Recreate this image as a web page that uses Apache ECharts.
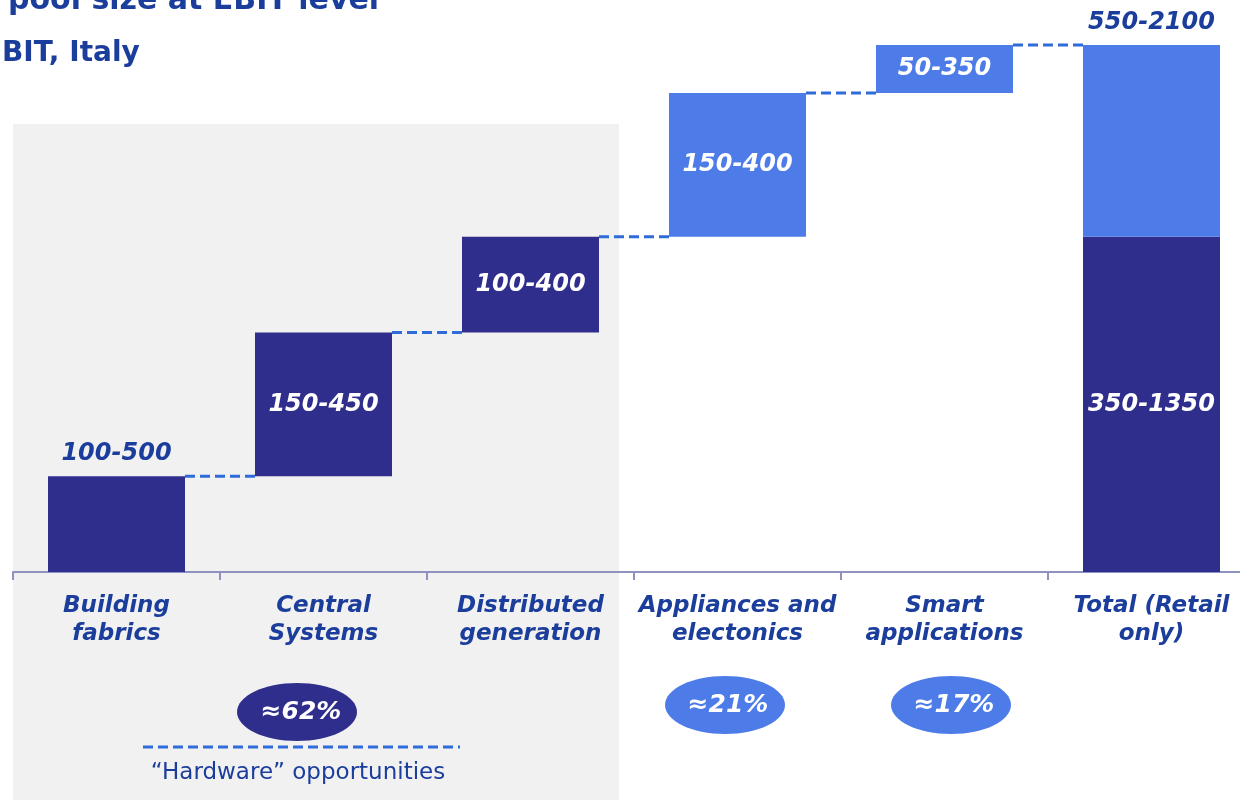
<!DOCTYPE html>
<html>
<head>
<meta charset="utf-8">
<script src="https://cdn.jsdelivr.net/npm/echarts@6/dist/echarts.min.js"></script>
<style>
  html, body { margin: 0; background: #fff; }
  #chart { width: 1240px; height: 800px; }
</style>
</head>
<body>
<div id="chart"></div>
<script>
// waterfall steps (relative units)
const categories = ['Building\nfabrics', 'Central\nSystems', 'Distributed\ngeneration', 'Appliances and\nelectonics', 'Smart\napplications', 'Total (Retail\nonly)'];
const stepValues = [2, 3, 2, 3, 1];
const totalParts = [7, 4];
const rangeLabels = ['100-500', '150-450', '100-400', '150-400', '50-350'];
const totalLabels = ['350-1350', '550-2100'];
const shares = ['≈62%', '≈21%', '≈17%'];

const DARK = '#302e8c';
const LIGHT = '#4d7be8';
const TEXT = '#1b3d9c';
const DASH = '#2f6bd9';
const FONT = 'DejaVu Sans';
const BAR_W = 137;

// cumulative levels
let bases = [];
let levels = [];
let run = 0;
stepValues.forEach(v => { bases.push(run); run += v; levels.push(run); });

const baseData = bases.concat([0]);
const stepData = stepValues.map((v, i) => ({
    value: v,
    itemStyle: { color: i < 3 ? DARK : LIGHT },
    label: i === 0
        ? { show: true, position: 'top', color: TEXT, formatter: rangeLabels[i], distance: 10 }
        : { show: true, position: 'inside', color: '#fff', formatter: rangeLabels[i] }
}));
stepData.push({
    value: totalParts[0],
    itemStyle: { color: DARK },
    label: { show: true, position: 'inside', color: '#fff', formatter: totalLabels[0] }
});
const topData = categories.map((c, i) => i === 5 ? totalParts[1] : '-');

const shareFont = 'italic bold 25px "DejaVu Sans"';

const chart = echarts.init(document.getElementById('chart'));
chart.setOption({
    animation: false,
    textStyle: { fontFamily: FONT },
    grid: { left: 13, right: -15, top: 45, bottom: 228, containLabel: false, outerBoundsMode: 'none' },
    xAxis: {
        type: 'category',
        data: categories,
        axisLine: { lineStyle: { color: '#8f92c0', width: 2 } },
        axisTick: { show: true, length: 8, lineStyle: { color: '#8f92c0', width: 2 } },
        axisLabel: {
            interval: 0, margin: 20, fontSize: 23, lineHeight: 28,
            fontWeight: 'bold', fontStyle: 'italic', color: TEXT, fontFamily: FONT
        }
    },
    yAxis: { type: 'value', min: 0, max: 11, show: false },
    graphic: [
        { type: 'rect', z: -10, shape: { x: 13, y: 124, width: 606, height: 676 }, style: { fill: '#f1f1f1' } },
        { type: 'text', left: 8, top: -14, style: { text: 'pool size at EBIT level', font: 'bold 30px "DejaVu Sans"', fill: TEXT } },
        { type: 'text', left: 2, top: 40, style: { text: 'BIT, Italy', font: 'bold 28px "DejaVu Sans"', fill: TEXT } },
        { type: 'ellipse', shape: { cx: 297, cy: 712, rx: 60, ry: 29 }, style: { fill: DARK } },
        { type: 'ellipse', shape: { cx: 725, cy: 705, rx: 60, ry: 29 }, style: { fill: LIGHT } },
        { type: 'ellipse', shape: { cx: 951, cy: 705, rx: 60, ry: 29 }, style: { fill: LIGHT } },
        { type: 'text', x: 301, y: 712, style: { text: shares[0], font: shareFont, fill: '#fff', align: 'center', verticalAlign: 'middle' } },
        { type: 'text', x: 728, y: 705, style: { text: shares[1], font: shareFont, fill: '#fff', align: 'center', verticalAlign: 'middle' } },
        { type: 'text', x: 954, y: 705, style: { text: shares[2], font: shareFont, fill: '#fff', align: 'center', verticalAlign: 'middle' } },
        { type: 'line', shape: { x1: 143, y1: 747, x2: 460, y2: 747 }, style: { stroke: DASH, lineWidth: 3, lineDash: [10, 5] } },
        { type: 'text', x: 298, y: 773, style: { text: '“Hardware” opportunities', font: '23px "DejaVu Sans"', fill: TEXT, align: 'center', verticalAlign: 'middle' } }
    ],
    series: [
        {
            type: 'bar', stack: 'w', data: baseData, barWidth: BAR_W,
            itemStyle: { color: 'transparent' }, silent: true
        },
        {
            type: 'bar', stack: 'w', data: stepData, barWidth: BAR_W,
            label: { fontSize: 24, fontWeight: 'bold', fontStyle: 'italic', fontFamily: FONT }
        },
        {
            type: 'bar', stack: 'w', data: topData, barWidth: BAR_W,
            itemStyle: { color: LIGHT },
            label: {
                show: true, position: 'top', distance: 10, formatter: totalLabels[1], color: TEXT,
                fontSize: 24, fontWeight: 'bold', fontStyle: 'italic', fontFamily: FONT
            }
        },
        {
            type: 'custom',
            data: levels.map((l, i) => [i, l]),
            z: 3,
            renderItem: function (params, api) {
                const a = api.coord([api.value(0), api.value(1)]);
                const b = api.coord([api.value(0) + 1, api.value(1)]);
                return {
                    type: 'line',
                    shape: { x1: a[0] + BAR_W / 2, y1: a[1], x2: b[0] - BAR_W / 2, y2: b[1] },
                    style: { stroke: DASH, lineWidth: 3, lineDash: [10, 5] }
                };
            }
        }
    ]
});
</script>
</body>
</html>
